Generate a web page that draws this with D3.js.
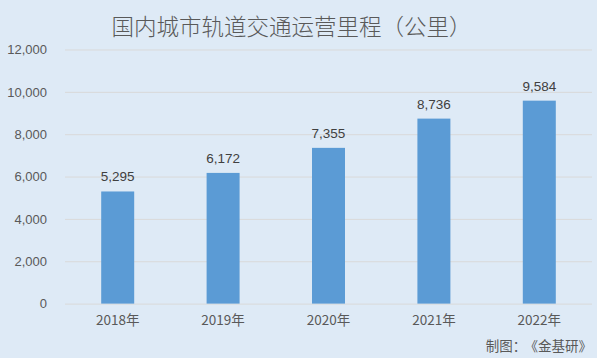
<!DOCTYPE html>
<html><head><meta charset="utf-8">
<script src="https://cdn.jsdelivr.net/npm/d3@7"></script>
<style>
html,body{margin:0;padding:0;background:#DEEAF6;}
svg{display:block;}
text{font-family:"Noto Sans CJK SC","Noto Sans",sans-serif;}
</style></head>
<body><svg id="c" width="597" height="358"></svg>
<script>
const categories = ["2018年","2019年","2020年","2021年","2022年"];
const values = [5295, 6172, 7355, 8736, 9584];
const yTicks = [0, 2000, 4000, 6000, 8000, 10000, 12000];
const title = "国内城市轨道交通运营里程（公里）";
const sourceLabel = "制图：";
const sourceName = "《金基研》";

const W = 597, H = 358;
const m = {left: 65, right: 5, top: 49.5, bottom: 54.4};
const svg = d3.select("#c");
svg.append("rect").attr("width", W).attr("height", H).attr("fill", "#DEEAF6");

const x = d3.scaleBand().domain(categories).range([m.left, W - m.right]).paddingInner(0.687).paddingOuter(0.3435);
const y = d3.scaleLinear().domain([0, 12000]).range([H - m.bottom, m.top]);

// gridlines
const yAxis = d3.axisLeft(y).tickValues(yTicks).tickSize(-(W - m.right - m.left)).tickFormat(d3.format(","));
const gy = svg.append("g").attr("transform", `translate(${m.left},0)`).call(yAxis);
gy.select(".domain").remove();
gy.selectAll(".tick line").attr("stroke", "#D9D9D9").attr("stroke-width", 1);
gy.selectAll(".tick text").attr("x", -18).attr("fill", "#595959").style("font-size", "13px").style("font-family", "Liberation Sans, Arial, sans-serif");

// bars
svg.append("g").selectAll("rect").data(values).join("rect")
  .attr("x", (d, i) => x(categories[i]))
  .attr("y", d => y(d))
  .attr("width", x.bandwidth())
  .attr("height", d => y(0) - y(d))
  .attr("fill", "#5B9BD5");

// value labels
svg.append("g").selectAll("text").data(values).join("text")
  .attr("x", (d, i) => x(categories[i]) + x.bandwidth() / 2)
  .attr("y", d => y(d) - 10)
  .attr("text-anchor", "middle")
  .attr("fill", "#404040")
  .style("font-size", "13.5px")
  .style("font-family", "Liberation Sans, Arial, sans-serif")
  .text(d => d3.format(",")(d));

// x axis
const xAxis = d3.axisBottom(x).tickSize(0).tickPadding(12);
const gx = svg.append("g").attr("transform", `translate(0,${y(0)})`).call(xAxis);
gx.select(".domain").remove();
gx.selectAll(".tick text").attr("fill", "#595959").style("font-size", "13.5px").attr("dy", "0.71em");

// title
svg.append("text").attr("x", 291.5).attr("y", 35).attr("text-anchor", "middle")
  .attr("fill", "#595959").style("font-size", "22.5px").style("font-weight", 300).text(title);

// source
const src = svg.append("text").attr("x", 592).attr("y", 351).attr("text-anchor", "end")
  .attr("fill", "#595959").style("font-size", "13.5px");
src.append("tspan").text(sourceLabel);
src.append("tspan").attr("dx", 5).text(sourceName);
</script></body></html>
